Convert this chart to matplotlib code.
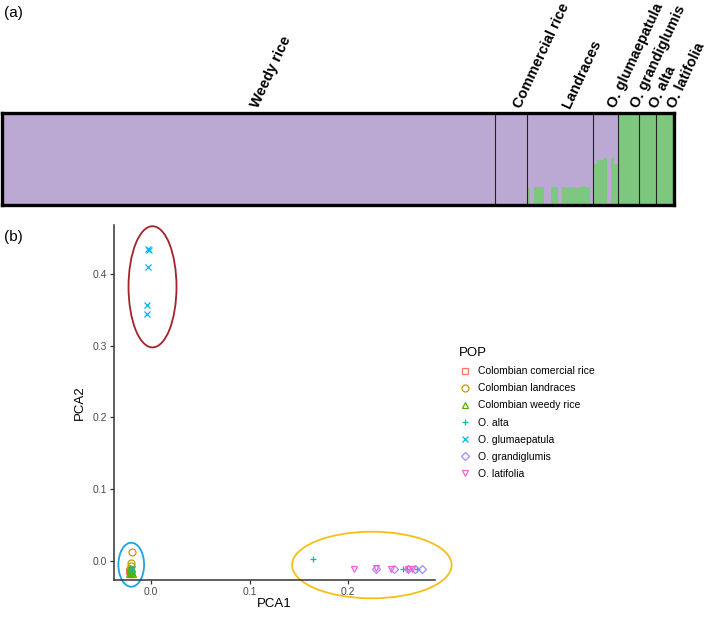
import matplotlib
matplotlib.use("Agg")
import matplotlib.pyplot as plt
from matplotlib.patches import Ellipse
import numpy as np

plt.rcParams['font.family'] = ['Liberation Sans', 'DejaVu Sans']

# ---------------- Panel (a) data: STRUCTURE ancestry (green fraction per sample) ----
groups = ["Weedy rice", "Commercial rice", "Landraces", "O. glumaepatula",
          "O. grandiglumis", "O. alta", "O. latifolia"]
group_sizes = [141, 9, 19, 7, 6, 5, 5]
weedy_green = [0.0] * 141
commercial_green = [0.0] * 9
landraces_green = [0.19, 0.0, 0.20, 0.20, 0.20, 0.0, 0.0, 0.20, 0.20, 0.0,
                   0.20, 0.19, 0.20, 0.20, 0.19, 0.20, 0.21, 0.20, 0.0]
glumaepatula_green = [0.45, 0.49, 0.49, 0.51, 0.0, 0.51, 0.45]
grandiglumis_green = [1.0] * 6
alta_green = [1.0] * 5
latifolia_green = [1.0] * 5

# ---------------- Panel (b) data: PCA ----------------
pop_labels = ["Colombian comercial rice", "Colombian landraces", "Colombian weedy rice",
              "O. alta", "O. glumaepatula", "O. grandiglumis", "O. latifolia"]
com_x = [-0.0215, -0.0210, -0.0205, -0.0220, -0.0200]
com_y = [-0.013, -0.016, -0.018, -0.015, -0.017]
land_x = [-0.0196, -0.0205, -0.0205, -0.0210, -0.0200]
land_y = [0.0117, -0.003, -0.008, -0.012, -0.015]
weedy_x = [-0.0210, -0.0200, -0.0190, -0.0215, -0.0185, -0.0205, -0.0195, -0.0220]
weedy_y = [-0.010, -0.014, -0.016, -0.012, -0.018, -0.017, -0.012, -0.018]
alta_x = [0.164, 0.2555, 0.2596, 0.2697]
alta_y = [0.003, -0.011, -0.011, -0.011]
glum_x = [-0.0030, -0.0025, -0.0030, -0.0040, -0.0040, -0.0195]
glum_y = [0.435, 0.433, 0.410, 0.357, 0.344, -0.012]
grand_x = [0.228, 0.247, 0.261, 0.268, 0.2748]
grand_y = [-0.011, -0.012, -0.012, -0.012, -0.011]
lat_x = [0.206, 0.228, 0.2437, 0.261, 0.2647]
lat_y = [-0.011, -0.010, -0.011, -0.011, -0.011]

pop_colors = ["#F8766D", "#C49A00", "#53B400", "#00C094", "#00B6EB", "#A58AFF", "#FB61D7"]
pop_markers = ["s", "o", "^", "+", "x", "D", "v"]
pop_xy = [(com_x, com_y), (land_x, land_y), (weedy_x, weedy_y), (alta_x, alta_y),
          (glum_x, glum_y), (grand_x, grand_y), (lat_x, lat_y)]

W, H = 709, 620
fig = plt.figure(figsize=(W / 100, H / 100), dpi=100)

def fx(px):
    return px / W

def fy(py):
    return 1 - py / H

# ---------------- Panel (a) ----------------
purple = "#BBA9D3"
green = "#7DC77E"
green_all = (weedy_green + commercial_green + landraces_green + glumaepatula_green +
             grandiglumis_green + alta_green + latifolia_green)
n = len(green_all)
axa = fig.add_axes([fx(1.7), fy(205), fx(673.5) - fx(1.7), fy(113.3) - fy(205)])
xs = np.arange(n)
g = np.array(green_all)
axa.bar(xs, g, width=1.0, align='edge', color=green, linewidth=0)
axa.bar(xs, 1 - g, bottom=g, width=1.0, align='edge', color=purple, linewidth=0)
axa.set_xlim(0, n)
axa.set_ylim(0, 1)
axa.set_xticks([])
axa.set_yticks([])
for s in axa.spines.values():
    s.set_linewidth(2.4)
    s.set_color("black")
bounds = np.cumsum(group_sizes)
for b in bounds[:-1]:
    axa.axvline(b, color="#222222", linewidth=0.8)
starts = np.concatenate([[0], bounds[:-1]])
for name, s0, b in zip(groups, starts, bounds):
    axa.text((s0 + b) / 2, 1.10, name, transform=axa.get_xaxis_transform(),
             rotation=65, rotation_mode='anchor', ha='left', va='top',
             fontsize=10.5, fontweight='bold')
fig.text(fx(4), fy(13), "(a)", fontsize=11, va='center', ha='left')
fig.text(fx(4), fy(237), "(b)", fontsize=11, va='center', ha='left')

# ---------------- Panel (b) ----------------
axb = fig.add_axes([fx(114), fy(580), fx(435) - fx(114), fy(225) - fy(580)])
for lab, col, mk, (x, y) in zip(pop_labels, pop_colors, pop_markers, pop_xy):
    ms = 4.0 if mk in ("D",) else 5.0
    axb.plot(x, y, linestyle='none', marker=mk, markersize=ms, markerfacecolor='none',
             markeredgecolor=col, markeredgewidth=0.9, label=lab)
axb.set_xlim(-0.0376, 0.2883)
axb.set_ylim(-0.0269, 0.4682)
axb.set_xticks([0.0, 0.1, 0.2])
axb.set_xticklabels(["0.0", "0.1", "0.2"])
axb.set_yticks([0.0, 0.1, 0.2, 0.3, 0.4])
axb.set_yticklabels(["0.0", "0.1", "0.2", "0.3", "0.4"])
for side in ("top", "right"):
    axb.spines[side].set_visible(False)
for side in ("left", "bottom"):
    axb.spines[side].set_linewidth(1.1)
    axb.spines[side].set_color("#333333")
axb.tick_params(axis='both', labelsize=7.5, labelcolor="#4D4D4D", color="#333333",
                length=3, width=0.9, pad=2)
axb.set_xlabel("PCA1", fontsize=9.5, labelpad=1)
axb.set_ylabel("PCA2", fontsize=9.5, labelpad=5)

# ellipses highlighting groups
ells = [((0.0015, 0.382), 0.0487, 0.169, "#A3232B"),
        ((-0.0201, -0.0056), 0.0261, 0.0614, "#1FA3E0"),
        ((0.2242, -0.006), 0.162, 0.0929, "#F7BE16")]
for (c, w, h, col) in ells:
    e = Ellipse(c, w, h, fill=False, edgecolor=col, linewidth=1.3, clip_on=False)
    axb.add_patch(e)

leg = axb.legend(loc='upper left', bbox_to_anchor=(fx(455), fy(343)),
                 bbox_transform=fig.transFigure, frameon=False, title="POP",
                 fontsize=7.5, title_fontsize=9.5, handletextpad=0.6,
                 labelspacing=0.68, handlelength=1.2, borderaxespad=0)
leg._legend_box.align = "left"

fig.savefig("out.png", dpi=100)
